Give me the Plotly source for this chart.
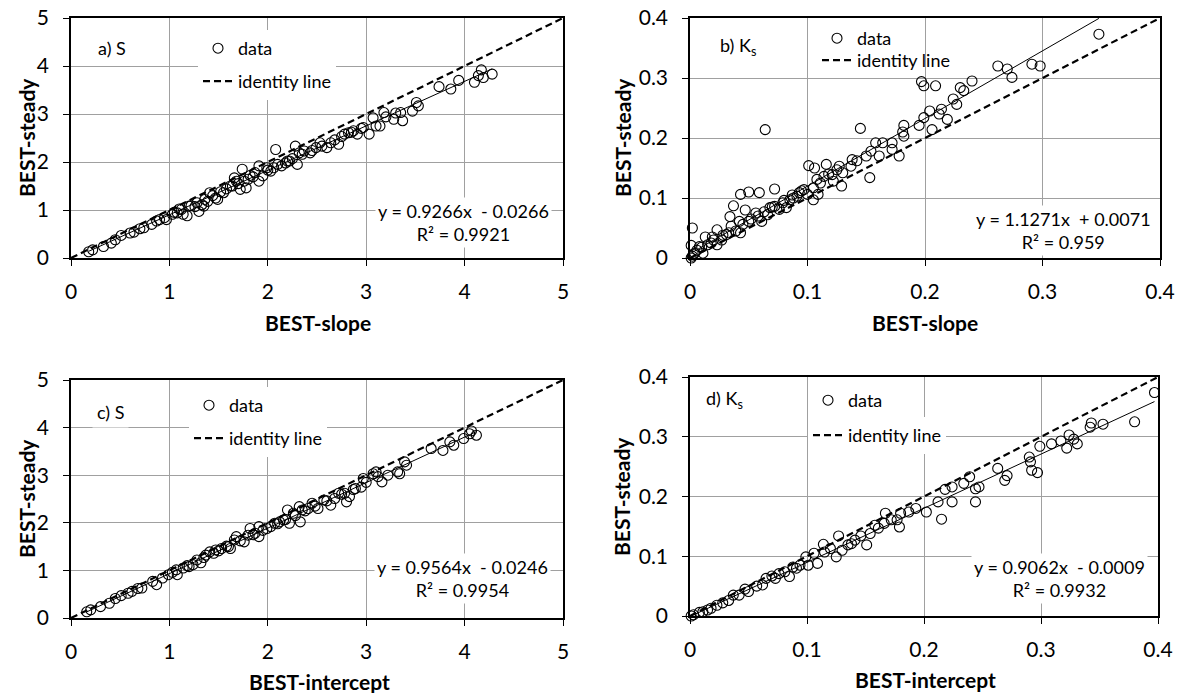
import plotly.graph_objects as go

# ---------------- data ----------------
# a) S : BEST-slope (x) vs BEST-steady (y)
a_x = [0.18, 0.22, 0.33, 0.41, 0.45, 0.51, 0.60, 0.64, 0.70, 0.74, 0.82, 0.87, 0.90, 0.95, 0.97,
       1.03, 1.05, 1.08, 1.10, 1.12, 1.14, 1.18, 1.20, 1.22, 1.26, 1.28, 1.30, 1.33, 1.35, 1.36,
       1.39, 1.41, 1.44, 1.47, 1.49, 1.52, 1.55, 1.58, 1.62, 1.64, 1.66, 1.68, 1.70, 1.72, 1.74,
       1.76, 1.78, 1.80, 1.82, 1.85, 1.87, 1.91, 1.91, 1.95, 1.99, 2.00, 2.03, 2.06, 2.08, 2.10,
       2.14, 2.18, 2.20, 2.22, 2.25, 2.28, 2.30, 2.32, 2.35, 2.37, 2.43, 2.45, 2.49, 2.53, 2.55,
       2.60, 2.64, 2.68, 2.72, 2.75, 2.78, 2.82, 2.85, 2.87, 2.91, 2.95, 2.97, 3.03, 3.07, 3.10,
       3.14, 3.18, 3.20, 3.28, 3.30, 3.35, 3.37, 3.47, 3.51, 3.53, 3.74, 3.86, 3.94, 4.10, 4.14,
       4.17, 4.19, 4.28]
a_y = [0.13, 0.17, 0.24, 0.31, 0.38, 0.47, 0.52, 0.54, 0.61, 0.63, 0.70, 0.77, 0.80, 0.84, 0.80,
       0.91, 0.95, 0.94, 1.02, 1.01, 0.91, 0.88, 1.08, 1.09, 1.07, 1.15, 0.97, 1.11, 1.08, 1.22,
       1.18, 1.36, 1.30, 1.25, 1.22, 1.38, 1.36, 1.44, 1.50, 1.50, 1.67, 1.60, 1.55, 1.43, 1.85,
       1.60, 1.46, 1.64, 1.72, 1.69, 1.78, 1.92, 1.60, 1.71, 1.88, 1.83, 1.81, 1.88, 2.26, 1.95,
       1.92, 1.98, 2.02, 2.02, 2.07, 2.33, 1.95, 2.19, 2.16, 2.23, 2.19, 2.24, 2.30, 2.40, 2.33,
       2.30, 2.40, 2.46, 2.37, 2.53, 2.58, 2.61, 2.62, 2.65, 2.58, 2.70, 2.72, 2.58, 2.92, 2.75,
       2.75, 3.03, 2.94, 2.89, 3.02, 3.03, 2.86, 3.06, 3.24, 3.17, 3.57, 3.52, 3.70, 3.66, 3.80,
       3.92, 3.76, 3.83]

# b) Ks : BEST-slope (x) vs BEST-steady (y)
b_x = [0.002, 0.001, 0.001, 0.002, 0.004, 0.006, 0.008, 0.010, 0.011, 0.013, 0.015, 0.018, 0.019,
       0.020, 0.023, 0.023, 0.027, 0.028, 0.031, 0.033, 0.034, 0.035, 0.037, 0.039, 0.042, 0.043,
       0.043, 0.045, 0.047, 0.050, 0.050, 0.052, 0.056, 0.058, 0.059, 0.061, 0.063, 0.064, 0.066,
       0.068, 0.070, 0.072, 0.072, 0.076, 0.079, 0.080, 0.082, 0.085, 0.087, 0.088, 0.091, 0.093,
       0.095, 0.097, 0.100, 0.101, 0.105, 0.105, 0.106, 0.108, 0.109, 0.111, 0.114, 0.116, 0.118,
       0.121, 0.122, 0.125, 0.127, 0.129, 0.130, 0.137, 0.138, 0.142, 0.145, 0.150, 0.153, 0.154,
       0.158, 0.161, 0.164, 0.172, 0.172, 0.178, 0.181, 0.182, 0.182, 0.195, 0.197, 0.199, 0.199,
       0.204, 0.206, 0.209, 0.212, 0.214, 0.219, 0.224, 0.227, 0.230, 0.233, 0.240, 0.262, 0.270,
       0.274, 0.291, 0.298, 0.348]
b_y = [0.050, 0.021, 0.000, 0.003, 0.008, 0.013, 0.019, 0.018, 0.008, 0.035, 0.022, 0.025, 0.035,
       0.030, 0.047, 0.022, 0.030, 0.038, 0.039, 0.042, 0.069, 0.053, 0.087, 0.045, 0.061, 0.106,
       0.042, 0.056, 0.080, 0.110, 0.061, 0.065, 0.075, 0.070, 0.109, 0.061, 0.077, 0.214, 0.072,
       0.084, 0.085, 0.115, 0.086, 0.081, 0.092, 0.096, 0.084, 0.097, 0.105, 0.100, 0.103, 0.109,
       0.112, 0.114, 0.106, 0.154, 0.117, 0.097, 0.150, 0.131, 0.106, 0.125, 0.136, 0.156, 0.140,
       0.139, 0.128, 0.147, 0.153, 0.120, 0.142, 0.153, 0.164, 0.162, 0.216, 0.170, 0.134, 0.178,
       0.192, 0.170, 0.192, 0.192, 0.181, 0.170, 0.210, 0.221, 0.203, 0.221, 0.294, 0.287, 0.234,
       0.245, 0.214, 0.287, 0.240, 0.248, 0.231, 0.265, 0.256, 0.284, 0.279, 0.295, 0.320, 0.315,
       0.301, 0.323, 0.320, 0.373]

# c) S : BEST-intercept (x) vs BEST-steady (y)
c_x = [0.16, 0.20, 0.30, 0.39, 0.45, 0.51, 0.58, 0.62, 0.68, 0.72, 0.83, 0.87, 0.93, 0.99, 1.03,
       1.07, 1.08, 1.14, 1.18, 1.20, 1.24, 1.28, 1.32, 1.35, 1.37, 1.41, 1.45, 1.47, 1.50, 1.53,
       1.58, 1.60, 1.62, 1.66, 1.68, 1.72, 1.76, 1.80, 1.82, 1.85, 1.87, 1.91, 1.91, 1.95, 1.99,
       2.03, 2.07, 2.10, 2.12, 2.16, 2.18, 2.20, 2.22, 2.26, 2.28, 2.32, 2.33, 2.35, 2.38, 2.41,
       2.45, 2.48, 2.51, 2.57, 2.60, 2.64, 2.68, 2.72, 2.75, 2.78, 2.80, 2.83, 2.87, 2.89, 2.95,
       2.97, 3.00, 3.07, 3.10, 3.12, 3.16, 3.22, 3.32, 3.34, 3.39, 3.41, 3.66, 3.78, 3.85, 3.89,
       3.99, 4.05, 4.07, 4.12]
c_y = [0.13, 0.17, 0.24, 0.31, 0.41, 0.47, 0.52, 0.56, 0.62, 0.63, 0.77, 0.70, 0.84, 0.91, 0.96,
       1.01, 0.91, 1.05, 1.10, 1.08, 1.12, 1.22, 1.16, 1.27, 1.32, 1.39, 1.36, 1.43, 1.41, 1.46,
       1.51, 1.50, 1.46, 1.64, 1.71, 1.62, 1.60, 1.74, 1.88, 1.75, 1.78, 1.92, 1.71, 1.84, 1.88,
       1.92, 1.99, 1.98, 2.02, 2.06, 2.07, 2.27, 1.99, 2.20, 2.15, 2.34, 2.02, 2.27, 2.25, 2.30,
       2.41, 2.35, 2.30, 2.48, 2.46, 2.37, 2.51, 2.62, 2.60, 2.62, 2.44, 2.55, 2.70, 2.72, 2.75,
       2.93, 2.85, 3.03, 3.07, 2.97, 2.86, 3.00, 3.07, 3.03, 3.28, 3.21, 3.56, 3.52, 3.70, 3.63,
       3.77, 3.87, 3.93, 3.84]

# d) Ks : BEST-intercept (x) vs BEST-steady (y)
d_x = [0.001, 0.003, 0.008, 0.011, 0.015, 0.018, 0.023, 0.028, 0.033, 0.037, 0.042, 0.047, 0.050,
       0.057, 0.062, 0.065, 0.070, 0.073, 0.076, 0.081, 0.085, 0.088, 0.091, 0.094, 0.099, 0.101,
       0.106, 0.109, 0.114, 0.115, 0.120, 0.125, 0.127, 0.130, 0.135, 0.138, 0.141, 0.146, 0.151,
       0.154, 0.158, 0.161, 0.166, 0.167, 0.172, 0.177, 0.179, 0.180, 0.187, 0.193, 0.202, 0.212,
       0.215, 0.218, 0.224, 0.224, 0.234, 0.239, 0.244, 0.244, 0.247, 0.263, 0.269, 0.271, 0.290,
       0.291, 0.292, 0.297, 0.299, 0.309, 0.317, 0.322, 0.324, 0.328, 0.331, 0.342, 0.343, 0.353,
       0.380, 0.397]
d_y = [0.000, 0.002, 0.006, 0.007, 0.010, 0.013, 0.018, 0.022, 0.026, 0.035, 0.035, 0.045, 0.041,
       0.050, 0.052, 0.063, 0.067, 0.063, 0.071, 0.074, 0.066, 0.082, 0.080, 0.085, 0.099, 0.085,
       0.105, 0.088, 0.120, 0.107, 0.113, 0.099, 0.134, 0.110, 0.119, 0.121, 0.127, 0.134, 0.119,
       0.138, 0.152, 0.147, 0.155, 0.172, 0.161, 0.161, 0.149, 0.172, 0.174, 0.180, 0.174, 0.191,
       0.162, 0.212, 0.191, 0.216, 0.222, 0.233, 0.191, 0.213, 0.216, 0.247, 0.227, 0.235, 0.266,
       0.258, 0.244, 0.240, 0.284, 0.288, 0.293, 0.281, 0.303, 0.296, 0.288, 0.316, 0.323, 0.321,
       0.325, 0.374]

# trendline coefficients (slope, intercept) and R² as printed
fits = {
    "a": (0.9266, -0.0266, "0.9921"),
    "b": (1.1271, 0.0071, "0.959"),
    "c": (0.9564, -0.0246, "0.9954"),
    "d": (0.9062, -0.0009, "0.9932"),
}
eq_text = {
    "a": "y = 0.9266x\u00a0 - 0.0266",
    "b": "y = 1.1271x\u00a0 + 0.0071",
    "c": "y = 0.9564x\u00a0 - 0.0246",
    "d": "y = 0.9062x\u00a0 - 0.0009",
}
panel_labels = {"a": "a) S", "b": "b) K<sub>s</sub>", "c": "c) S", "d": "d) K<sub>s</sub>"}
x_titles = {"a": "BEST-slope", "b": "BEST-slope", "c": "BEST-intercept", "d": "BEST-intercept"}
y_title = "BEST-steady"
ranges = {"a": 5, "b": 0.4, "c": 5, "d": 0.4}
dticks = {"a": 1, "b": 0.1, "c": 1, "d": 0.1}
data = {"a": (a_x, a_y), "b": (b_x, b_y), "c": (c_x, c_y), "d": (d_x, d_y)}

# ---------------- layout geometry (pixels) ----------------
W, H = 1180, 693
boxes = {  # x0, x1, ytop, ybot
    "a": (71, 563, 18, 258),
    "b": (690, 1160, 18, 258),
    "c": (71, 563, 380, 618),
    "d": (690, 1158, 377, 616),
}
FONT = "Lato"

def px(xp):
    return xp / W

def py(yp):
    return 1 - yp / H

fig = go.Figure()
layout = dict(
    template="none",
    width=W, height=H, margin=dict(l=0, r=0, t=0, b=0, autoexpand=False),
    paper_bgcolor="white", plot_bgcolor="white",
    font=dict(family=FONT, color="black", size=18),
    annotations=[],
)

# legend boxes (left x, top y) for the "data" entry and the "identity line" entry
leg_data_pos = {"a": (198, 30), "b": (817, 20), "c": (189, 387), "d": (808, 382)}
leg_id_pos = {"a": (198, 63), "b": (817, 42), "c": (189, 420), "d": (808, 417)}
leg_id_bg = {"a": "white", "b": "rgba(0,0,0,0)", "c": "white", "d": "white"}
label_pos = {"a": (112, 48), "b": (738, 47), "c": (110, 412), "d": (724, 400)}
eq_pos = {"a": (463, 223), "b": (1063, 230), "c": (462, 578), "d": (1059, 578)}
xt_pos = {"a": (318, 322), "b": (925, 322), "c": (319, 681), "d": (925, 679)}
yt_pos = {"a": (26, 138), "b": (622, 138), "c": (26, 499), "d": (622, 497)}

def legend_box(pos, bg="white"):
    lx, ly = pos
    return dict(
        x=px(lx), y=py(ly), xanchor="left", yanchor="top", bgcolor=bg,
        borderwidth=0, font=dict(family=FONT, size=18, color="black"),
        itemclick=False, itemdoubleclick=False,
    )

for i, k in enumerate(["a", "b", "c", "d"]):
    n = "" if i == 0 else str(i + 1)
    xa, ya = "x" + n, "y" + n
    lg_data = "legend" if i == 0 else "legend" + str(2 * i + 1)
    lg_id = "legend" + str(2 * i + 2)
    x0, x1, yt, yb = boxes[k]
    xs, ys = data[k]
    m, c, r2 = fits[k]
    R = ranges[k]

    fig.add_trace(go.Scatter(
        x=xs, y=ys, mode="markers", name="data", xaxis=xa, yaxis=ya, legend=lg_data,
        cliponaxis=False,
        marker=dict(symbol="circle-open", size=10, color="black", line=dict(width=1.1)),
    ))
    fig.add_trace(go.Scatter(
        x=[0, R], y=[0, R], mode="lines", name="identity line", xaxis=xa, yaxis=ya, legend=lg_id,
        line=dict(color="black", width=2.2, dash="7px,4px"),
    ))
    tx = [min(xs), max(xs)]
    fig.add_trace(go.Scatter(
        x=tx, y=[m * v + c for v in tx], mode="lines", showlegend=False,
        xaxis=xa, yaxis=ya, line=dict(color="black", width=1), hoverinfo="skip",
    ))

    axis_common = dict(
        range=[0, R], dtick=dticks[k], tick0=0, showgrid=True, gridcolor="#a0a0a0", gridwidth=1.3,
        showline=True, linecolor="black", linewidth=1.5, mirror=True, ticks="outside",
        ticklen=6, tickcolor="black", tickwidth=1.2, zeroline=False, automargin=False,
        tickfont=dict(family=FONT, size=21, color="black"), fixedrange=True,
    )
    layout["xaxis" + n] = dict(axis_common, domain=[px(x0), px(x1)], anchor=ya,
                               ticklabelstandoff=8)
    layout["yaxis" + n] = dict(axis_common, domain=[py(yb), py(yt)], anchor=xa,
                               ticklabelstandoff=10)

    layout[lg_data] = legend_box(leg_data_pos[k])
    layout[lg_id] = legend_box(leg_id_pos[k], leg_id_bg[k])

    ann = layout["annotations"]
    common = dict(xref="paper", yref="paper", showarrow=False, xanchor="center", yanchor="middle")
    lxp, lyp = label_pos[k]
    ann.append(dict(common, text=panel_labels[k], x=px(lxp), y=py(lyp), bgcolor="white",
                    font=dict(size=18), borderpad=4))
    exp_, eyp = eq_pos[k]
    ann.append(dict(common, text=eq_text[k] + "<br>R² = " + r2, x=px(exp_), y=py(eyp),
                    bgcolor="white", align="center", font=dict(size=18), borderpad=2))
    xtx, xty = xt_pos[k]
    ann.append(dict(common, text="<b>" + x_titles[k] + "</b>", x=px(xtx), y=py(xty),
                    font=dict(size=21)))
    ytx, yty = yt_pos[k]
    ann.append(dict(common, text="<b>" + y_title + "</b>", x=px(ytx), y=py(yty),
                    textangle=-90, font=dict(size=21)))

fig.update_layout(**layout)
fig.write_html(
    "out.html",
    config={"displayModeBar": False},
    post_script="document.body.style.margin='0';document.body.style.overflow='hidden';",
)
